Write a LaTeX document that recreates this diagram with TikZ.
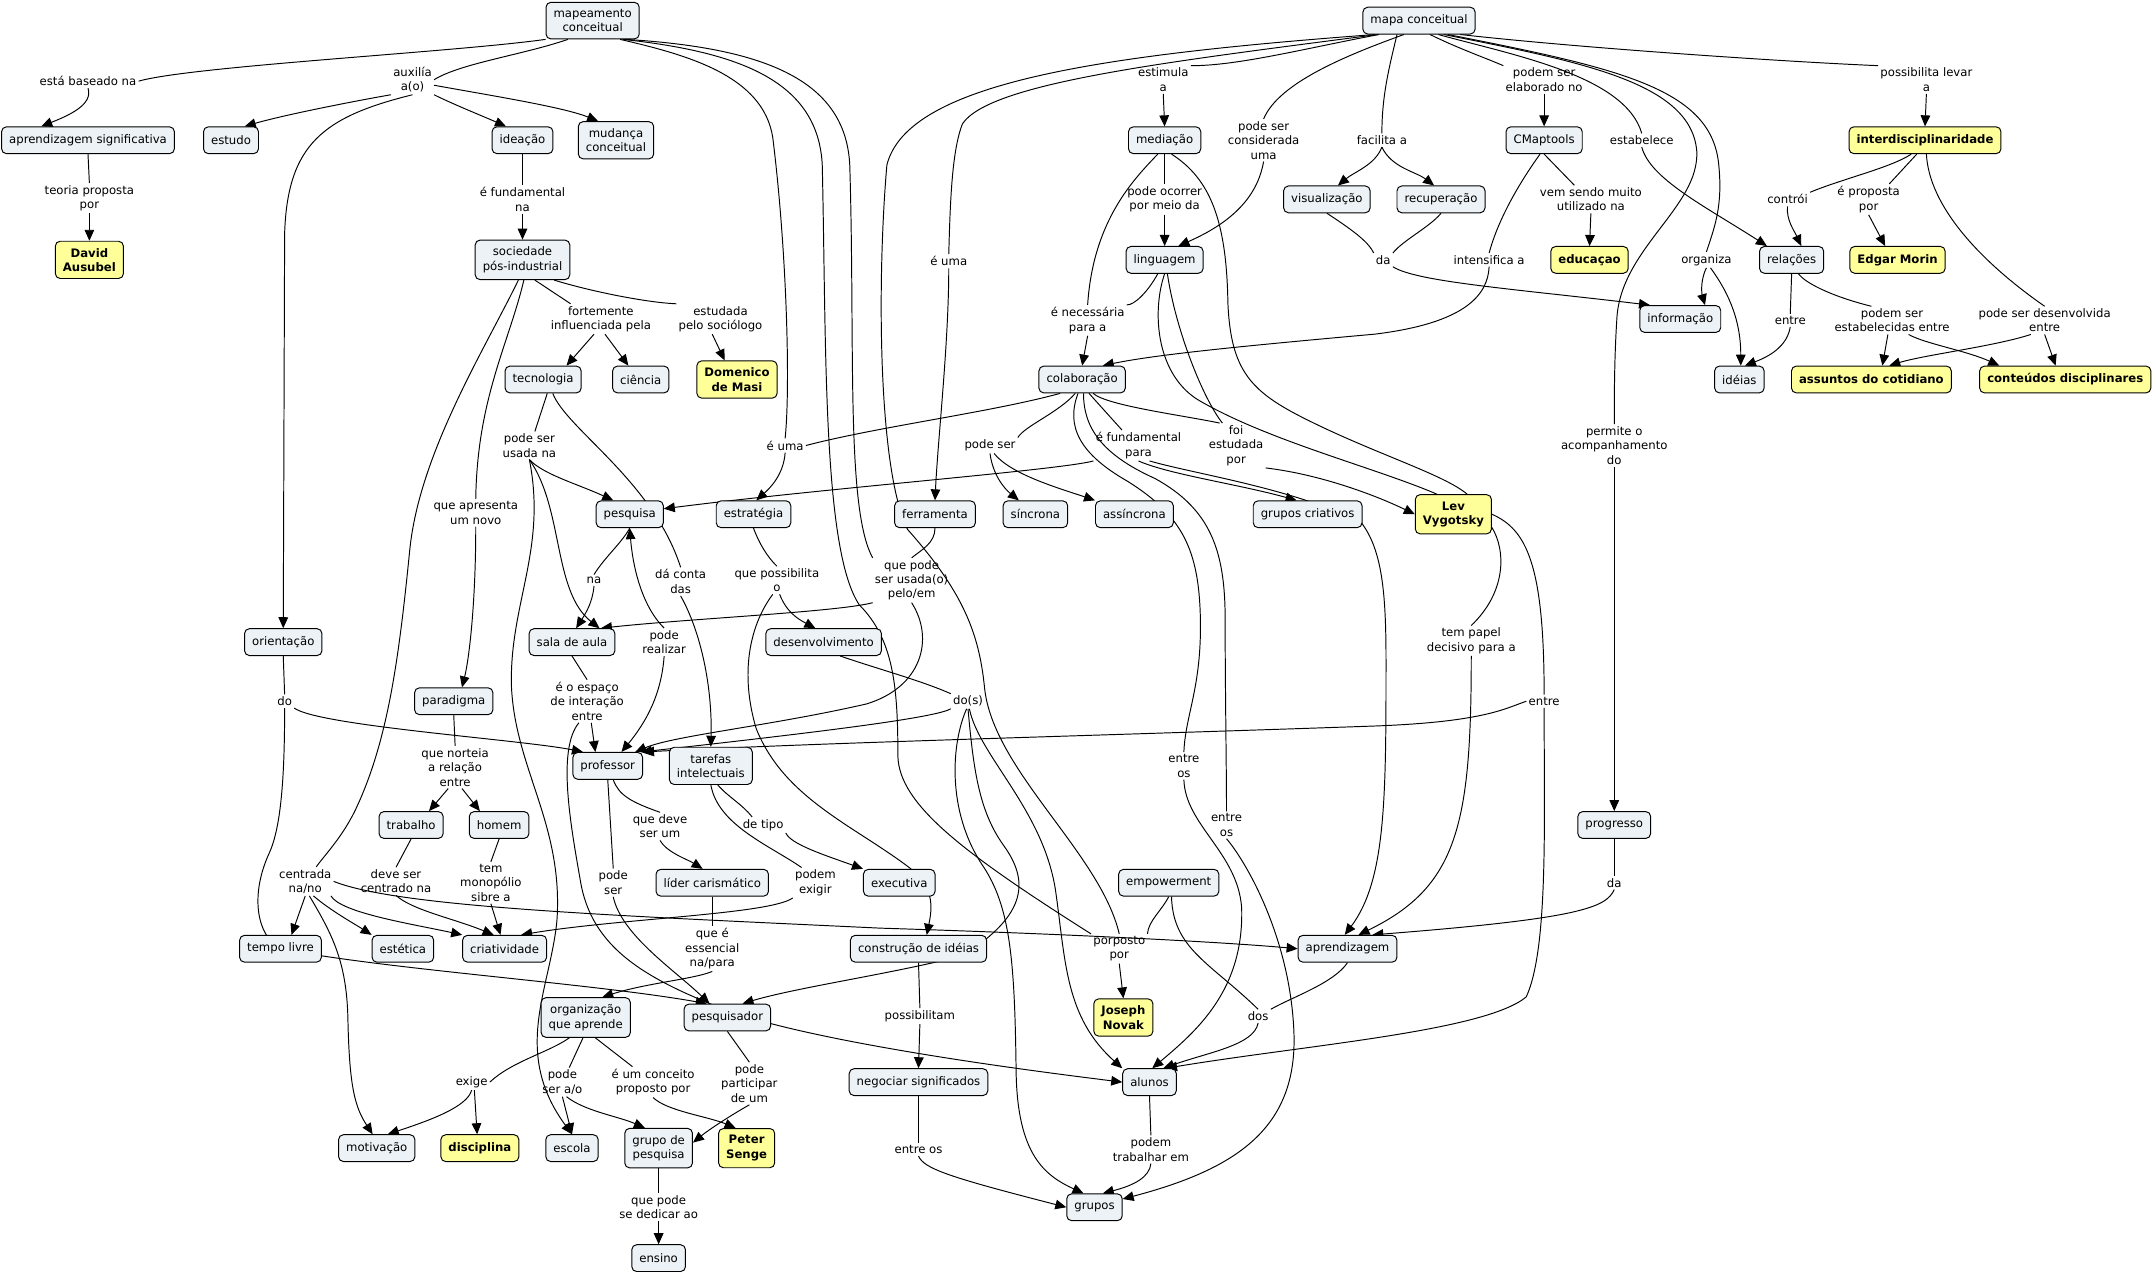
\documentclass[tikz,border=0pt]{standalone}
\usepackage{fontspec}
\setmainfont{DejaVu Sans}
\usetikzlibrary{calc,arrows.meta}
\pgfdeclarelayer{bg}
\pgfdeclarelayer{edges}
\pgfsetlayers{bg,edges,main}
\definecolor{cfill}{RGB}{236,242,245}
\definecolor{yfill}{RGB}{255,255,153}
\newcommand\cfont{\fontsize{8.5}{10.5}\selectfont}
\tikzset{
 cbox/.style={draw=black, line width=0.7pt, rounded corners=3.5pt, fill=cfill, inner xsep=5.5pt, inner ysep=5pt, minimum height=19.5pt, align=center, font=\cfont},
 ybox/.style={cbox, fill=yfill, font=\cfont\bfseries},
 lab/.style={inner sep=1.5pt, align=center, font=\cfont},
 ln/.style={line width=0.7pt},
 ar/.style={ln, -{Triangle[length=8pt,width=7pt]}},
}
\begin{document}
\begin{tikzpicture}[x=1pt,y=-1pt]
\begin{pgfonlayer}{bg}
\fill[white] (0,0) rectangle (1568,925);
\end{pgfonlayer}
\useasboundingbox (0,0) rectangle (1568,925);
% concepts
\node[cbox] (M1) at (431,15) {mapeamento\\conceitual};
\node[cbox] (M2) at (1032,15) {mapa conceitual};
\node[cbox] (apsig) at (64,102) {aprendizagem significativa};
\node[cbox] (estudo) at (168,102) {estudo};
\node[cbox] (ideacao) at (380,102) {ideação};
\node[cbox] (mudanca) at (448,102) {mudança\\conceitual};
\node[ybox] (ausubel) at (65,189) {David\\Ausubel};
\node[cbox] (soc) at (380,189) {sociedade\\pós-industrial};
\node[cbox] (tec) at (395,276) {tecnologia};
\node[cbox] (cien) at (466,276) {ciência};
\node[ybox] (masi) at (536,276) {Domenico\\de Masi};
\node[cbox] (pesq) at (458,374) {pesquisa};
\node[cbox] (estr) at (548,374) {estratégia};
\node[cbox] (ferr) at (680,374) {ferramenta};
\node[cbox] (sinc) at (753,374) {síncrona};
\node[cbox] (assinc) at (825,374) {assíncrona};
\node[cbox] (gcri) at (951,374) {grupos criativos};
\node[ybox] (lev) at (1057,374) {Lev\\Vygotsky};
\node[cbox] (orient) at (206,467) {orientação};
\node[cbox] (sala) at (416,467) {sala de aula};
\node[cbox] (desenv) at (599,467) {desenvolvimento};
\node[cbox] (parad) at (330,510) {paradigma};
\node[cbox] (prof) at (442,557) {professor};
\node[cbox] (taref) at (517,557) {tarefas\\intelectuais};
\node[cbox] (trab) at (299,600) {trabalho};
\node[cbox] (homem) at (363,600) {homem};
\node[cbox] (progr) at (1174,600) {progresso};
\node[cbox] (lider) at (518,642) {líder carismático};
\node[cbox] (exec) at (654,642) {executiva};
\node[cbox] (empow) at (850,642) {empowerment};
\node[cbox] (tempo) at (204,690) {tempo livre};
\node[cbox] (estet) at (293,690) {estética};
\node[cbox] (criat) at (367,690) {criatividade};
\node[cbox] (constr) at (668,690) {construção de idéias};
\node[cbox] (aprend) at (980,690) {aprendizagem};
\node[cbox] (orgap) at (426,740) {organização\\que aprende};
\node[cbox] (pesqr) at (529,740) {pesquisador};
\node[ybox] (novak) at (817,740) {Joseph\\Novak};
\node[cbox] (negoc) at (668,787) {negociar significados};
\node[cbox] (alunos) at (836,787) {alunos};
\node[cbox] (motiv) at (274,835) {motivação};
\node[ybox] (disc) at (349,835) {disciplina};
\node[cbox] (escola) at (416,835) {escola};
\node[cbox] (gpesq) at (479,835) {grupo de\\pesquisa};
\node[ybox] (senge) at (543,835) {Peter\\Senge};
\node[cbox] (grupos) at (796,878) {grupos};
\node[cbox] (ensino) at (479,915) {ensino};
\node[cbox] (mediacao) at (847,102) {mediação};
\node[cbox] (visual) at (965,145) {visualização};
\node[cbox] (recup) at (1048,145) {recuperação};
\node[cbox] (ling) at (847,189) {linguagem};
\node[cbox] (colab) at (787,276) {colaboração};
\node[cbox] (cmap) at (1123,102) {CMaptools};
\node[ybox] (interd) at (1400,102) {interdisciplinaridade};
\node[ybox] (educ) at (1156,189) {educaçao};
\node[cbox] (relac) at (1303,189) {relações};
\node[ybox] (morin) at (1380,189) {Edgar Morin};
\node[cbox] (info) at (1222,232) {informação};
\node[cbox] (ideias) at (1265,276) {idéias};
\node[ybox] (assunt) at (1361,276) {assuntos do cotidiano};
\node[ybox] (conteud) at (1502,276) {conteúdos disciplinares};
% linking phrases
\node[lab] (l1) at (64,59) {está baseado na};
\node[lab] (l2) at (300,58) {auxilía\\a(o)};
\node[lab] (l3) at (65,144) {teoria proposta\\por};
\node[lab] (l4) at (380,145) {é fundamental\\na};
\node[lab] (l5) at (437,232) {fortemente\\influenciada pela};
\node[lab] (l6) at (524,232) {estudada\\pelo sociólogo};
\node[lab] (l7) at (385,324) {pode ser\\usada na};
\node[lab] (l8) at (346,373) {que apresenta\\um novo};
\node[lab] (l9) at (432,422) {na};
\node[lab] (l10) at (495,423) {dá conta\\das};
\node[lab] (l11) at (483,467) {pode\\realizar};
\node[lab] (l12) at (207,510) {do};
\node[lab] (l13) at (427,510) {é o espaço\\de interação\\entre};
\node[lab] (l14) at (331,558) {que norteia\\a relação\\entre};
\node[lab] (l15) at (480,601) {que deve\\ser um};
\node[lab] (l16) at (222,641) {centrada\\na/no};
\node[lab] (l17) at (288,641) {deve ser\\centrado na};
\node[lab] (l18) at (357,642) {tem\\monopólio\\sibre a};
\node[lab] (l19) at (446,642) {pode\\ser};
\node[lab] (l20) at (593,642) {podem\\exigir};
\node[lab] (l21) at (518,690) {que é\\essencial\\na/para};
\node[lab] (l22) at (343,787) {exige};
\node[lab] (l23) at (409,787) {pode\\ser a/o};
\node[lab] (l24) at (475,787) {é um conceito\\proposto por};
\node[lab] (l25) at (545,788) {pode\\participar\\de um};
\node[lab] (l26) at (479,878) {que pode\\se dedicar ao};
\node[lab] (l27) at (571,324) {é uma};
\node[lab] (l28) at (720,324) {pode ser};
\node[lab] (l29) at (828,324) {é fundamental\\para};
\node[lab] (l30) at (899,324) {foi\\estudada\\por};
\node[lab] (l31) at (565,422) {que possibilita\\o};
\node[lab] (l32) at (663,422) {que pode\\ser usada(o)\\pelo/em};
\node[lab] (l33) at (704,510) {do(s)};
\node[lab] (l34) at (555,600) {de tipo};
\node[lab] (l35) at (861,557) {entre\\os};
\node[lab] (l36) at (892,600) {entre\\os};
\node[lab] (l37) at (814,690) {porposto\\por};
\node[lab] (l38) at (669,739) {possibilitam};
\node[lab] (l39) at (915,739) {dos};
\node[lab] (l40) at (668,836) {entre os};
\node[lab] (l41) at (837,836) {podem\\trabalhar em};
\node[lab] (l42) at (846,58) {estimula\\a};
\node[lab] (l43) at (919,102) {pode ser\\considerada\\uma};
\node[lab] (l44) at (1005,102) {facilita a};
\node[lab] (l45) at (847,145) {pode ocorrer\\por meio da};
\node[lab] (l46) at (690,190) {é uma};
\node[lab] (l47) at (1006,189) {da};
\node[lab] (l48) at (791,233) {é necessária\\para a};
\node[lab] (l49) at (1123,58) {podem ser\\elaborado no};
\node[lab] (l50) at (1194,102) {estabelece};
\node[lab] (l51) at (1401,58) {possibilita levar\\a};
\node[lab] (l52) at (1157,145) {vem sendo muito\\utilizado na};
\node[lab] (l53) at (1300,145) {contrói};
\node[lab] (l54) at (1359,145) {é proposta\\por};
\node[lab] (l55) at (1083,189) {intensifica a};
\node[lab] (l56) at (1241,189) {organiza};
\node[lab] (l57) at (1302,233) {entre};
\node[lab] (l58) at (1376,233) {podem ser\\estabelecidas entre};
\node[lab] (l59) at (1487,233) {pode ser desenvolvida\\entre};
\node[lab] (l60) at (1174,324) {permite o\\acompanhamento\\do};
\node[lab] (l61) at (1070,466) {tem papel\\decisivo para a};
\node[lab] (l62) at (1123,510) {entre};
\node[lab] (l63) at (1174,642) {da};

\begin{pgfonlayer}{edges}
% mapeamento conceitual
\draw[ln] (M1.south west) .. controls (330,38) and (140,48) .. (l1.east);
\draw[ar] (l1.south) .. controls (68,76) and (50,84) .. ($(apsig.north)+(-34,0)$);
\draw[ln] ($(M1.south)+(-18,0)$) .. controls (380,40) and (335,46) .. (l2.east);
\draw[ar] (l2.south west) .. controls (255,74) and (205,84) .. ($(estudo.north)+(10,0)$);
\draw[ar] (l2.south east) .. controls (330,76) and (350,84) .. ($(ideacao.north)+(-12,0)$);
\draw[ar] ($(l2.east)+(0,4)$) .. controls (360,70) and (410,78) .. ($(mudanca.north)+(-13,0)$);
\draw[ar] (l2.south) .. controls (235,85) and (209,105) .. (207,170) -- (orient.north);
\draw[ln] (apsig.south) -- (l3.north);
\draw[ar] (l3.south) -- (ausubel.north);
\draw[ln] (ideacao.south) -- (l4.north);
\draw[ar] (l4.south) -- (soc.north);
\draw[ln] ($(soc.south)+(9,0)$) -- ($(l5.north)+(-22,0)$);
\draw[ar] ($(l5.south)+(-5,0)$) -- ($(tec.north)+(17,0)$);
\draw[ar] ($(l5.south)+(3,0)$) -- ($(cien.north)+(-9,0)$);
\draw[ln] ($(soc.south)+(23,0)$) .. controls (430,212) and (470,220) .. (l6.north west);
\draw[ar] ($(l6.south)+(-6,0)$) -- ($(masi.north)+(-9,0)$);
\draw[ln] ($(soc.south)+(-3,0)$) .. controls (352,255) and (305,330) .. (298,400) .. controls (290,480) and (282,540) .. (258,590) .. controls (248,610) and (236,622) .. ($(l16.north)+(8,0)$);
\draw[ln] ($(soc.south)+(1,0)$) .. controls (370,250) and (347,290) .. (l8.north);
\draw[ar] (l8.south) .. controls (346,440) and (341,480) .. ($(parad.north)+(6,0)$);
\draw[ln] ($(tec.south)+(3,0)$) -- ($(l7.north)+(4,0)$);
\draw[ar] (l7.south) .. controls (395,345) and (420,352) .. ($(pesq.north)+(-12,0)$);
\draw[ar] (l7.south) .. controls (410,370) and (402,430) .. ($(sala.north)+(20,0)$);
\draw[ar] (l7.south) .. controls (398,400) and (370,440) .. (372,500) .. controls (375,560) and (410,600) .. (405,670) .. controls (400,720) and (372,765) .. (escola.north);
\draw[ln] ($(tec.south)+(7,0)$) .. controls (412,312) and (475,350) .. (l10.north);
\draw[ar] (l10.south) .. controls (510,460) and (518,500) .. (taref.north);
\draw[ln] (pesq.south) .. controls (452,395) and (440,405) .. (l9.north);
\draw[ar] (l9.south) .. controls (431,438) and (426,446) .. ($(sala.north)+(3,0)$);
\draw[ar] (l11.north) .. controls (466,440) and (460,410) .. (pesq.south);
\draw[ar] (l11.south) .. controls (481,505) and (470,525) .. ($(prof.north)+(10,0)$);
\draw[ln] (sala.south) -- (l13.north);
\draw[ar] ($(l13.south)+(3,0)$) -- ($(prof.north)+(-9,0)$);
\draw[ar] ($(l13.south)+(-6,0)$) .. controls (405,545) and (415,600) .. (422,640) .. controls (430,690) and (470,712) .. (529,735) .. controls (600,760) and (760,780) .. (alunos.west);
\draw[ln] (orient.south) -- (l12.north);
\draw[ar] (l12.south east) .. controls (232,528) and (380,538) .. ($(prof.north)+(-18,0)$);
\draw[ar] (l12.south) .. controls (207,560) and (205,600) .. (196,620) .. controls (182,650) and (186,680) .. (204,690) .. controls (280,705) and (430,715) .. ($(pesqr.north)+(-15,0)$);
\draw[ln] (parad.south) -- (l14.north);
\draw[ar] ($(l14.south)+(-5,0)$) -- ($(trab.north)+(13,0)$);
\draw[ar] ($(l14.south)+(5,0)$) -- ($(homem.north)+(-14,0)$);
\draw[ln] (trab.south) -- (l17.north);
\draw[ar] (l17.south) .. controls (300,662) and (330,668) .. ($(criat.north)+(-8,0)$);
\draw[ln] (homem.south) -- (l18.north);
\draw[ar] (l18.south) -- ($(criat.north)+(-3,0)$);
\draw[ln] (taref.south) .. controls (522,600) and (560,615) .. ($(l20.north)+(-10,0)$);
\draw[ar] (l20.south west) .. controls (560,665) and (450,668) .. ($(criat.north)+(12,0)$);
\draw[ln] ($(taref.south)+(5,0)$) .. controls (530,580) and (540,585) .. ($(l34.north)+(-8,0)$);
\draw[ar] (l34.south east) .. controls (575,614) and (600,622) .. (exec.north west);
\draw[ln] ($(prof.south)+(4,0)$) .. controls (450,578) and (458,583) .. (l15.north);
\draw[ar] (l15.south) .. controls (485,620) and (500,625) .. ($(lider.north)+(-7,0)$);
\draw[ln] (prof.south) -- (l19.north);
\draw[ar] (l19.south) .. controls (452,680) and (490,705) .. ($(pesqr.north)+(-13,0)$);
\draw[ln] (lider.south) -- (l21.north);
\draw[ar] (l21.south) .. controls (505,712) and (470,715) .. ($(orgap.north)+(12,0)$);
\draw[ar] (l16.south) -- ($(tempo.north)+(8,0)$);
\draw[ar] ($(l16.south)+(6,0)$) .. controls (240,662) and (258,672) .. (estet.north west);
\draw[ar] ($(l16.south east)+(-2,0)$) .. controls (248,664) and (300,672) .. (criat.north west);
\draw[ar] (l16.east) .. controls (290,660) and (450,666) .. (640,675) .. controls (800,680) and (900,686) .. (aprend.west);
\draw[ar] ($(l16.south)+(3,0)$) .. controls (242,680) and (252,700) .. (253,740) .. controls (254,790) and (258,805) .. ($(motiv.north)+(-3,0)$);
\draw[ln] ($(orgap.south)+(-12,0)$) .. controls (400,765) and (372,772) .. (l22.east);
\draw[ar] (l22.south) .. controls (340,805) and (312,815) .. ($(motiv.north)+(8,0)$);
\draw[ar] ($(l22.south)+(2,0)$) -- ($(disc.north)+(-2,0)$);
\draw[ln] ($(orgap.south)+(-2,0)$) -- ($(l23.north)+(5,0)$);
\draw[ar] (l23.south) -- (escola.north);
\draw[ar] ($(l23.south)+(3,0)$) .. controls (425,808) and (450,812) .. ($(gpesq.north)+(-10,0)$);
\draw[ln] ($(orgap.south)+(7,0)$) -- ($(l24.north)+(-15,0)$);
\draw[ar] (l24.south) .. controls (485,808) and (515,812) .. ($(senge.north)+(-8,0)$);
\draw[ln] (pesqr.south) -- (l25.north);
\draw[ar] (l25.south) .. controls (530,812) and (515,822) .. ($(gpesq.east)+(0,-4)$);
\draw[ln] (gpesq.south) -- (l26.north);
\draw[ar] (l26.south) -- (ensino.north);
% colaboração and middle
\draw[ln] ($(colab.south)+(-16,0)$) .. controls (720,300) and (640,310) .. (l27.east);
\draw[ln] ($(M1.south)+(20,0)$) .. controls (500,40) and (555,55) .. (562,100) .. controls (572,180) and (575,280) .. (l27.north);
\draw[ar] (l27.south) .. controls (570,345) and (560,355) .. ($(estr.north)+(2,0)$);
\draw[ln] ($(M1.south)+(22,0)$) .. controls (540,38) and (595,60) .. (598,120) .. controls (601,250) and (598,400) .. (625,440) .. controls (650,465) and (653,500) .. (653,550) .. controls (654,585) and (700,620) .. (l37.north west);
\draw[ln] ($(M1.south)+(24,0)$) .. controls (560,35) and (615,60) .. (618,120) .. controls (622,250) and (615,370) .. (l32.north west);
\draw[ln] (ferr.south) .. controls (680,395) and (670,400) .. (l32.north);
\draw[ar] (l32.south west) .. controls (610,445) and (500,450) .. ($(sala.north)+(21,0)$);
\draw[ar] (l32.south) .. controls (680,465) and (670,500) .. (630,512) .. controls (560,528) and (490,535) .. ($(prof.north)+(20,0)$);
\draw[ln] ($(M2.south)+(-30,0)$) .. controls (850,45) and (720,60) .. (700,90) .. controls (692,110) and (691,150) .. (l46.north);
\draw[ar] (l46.south) .. controls (690,250) and (682,320) .. (ferr.north);
\draw[ln] ($(M2.south)+(-32,0)$) .. controls (800,40) and (660,60) .. (645,120) .. controls (638,200) and (638,340) .. (660,385) .. controls (700,430) and (712,460) .. (716,500) .. controls (722,560) and (800,620) .. (l37.north);
\draw[ar] (l37.south) -- (novak.north);
\draw[ln] (empow.south) .. controls (845,662) and (835,670) .. (l37.north east);
\draw[ln] ($(empow.south)+(2,0)$) .. controls (853,690) and (880,700) .. (l39.north);
\draw[ln] (aprend.south) .. controls (970,715) and (940,725) .. (l39.north east);
\draw[ar] (l39.south) .. controls (912,760) and (880,765) .. ($(alunos.north)+(10,0)$);
\draw[ln] ($(M2.south)+(-29,0)$) .. controls (950,35) and (900,48) .. (l42.north east);
\draw[ar] (l42.south) -- (mediacao.north);
\draw[ln] ($(M2.south)+(-11,0)$) .. controls (980,40) and (930,60) .. (l43.north);
\draw[ar] (l43.south) .. controls (915,140) and (900,160) .. ($(ling.north)+(10,0)$);
\draw[ln] ($(M2.south)+(-16,0)$) .. controls (1010,50) and (1005,70) .. (l44.north);
\draw[ar] (l44.south) .. controls (1000,120) and (985,125) .. ($(visual.north)+(8,0)$);
\draw[ar] (l44.south) .. controls (1012,122) and (1030,125) .. ($(recup.north)+(-5,0)$);
\draw[ln] (visual.south) .. controls (980,165) and (995,175) .. (l47.north west);
\draw[ln] (recup.south) .. controls (1040,165) and (1020,175) .. (l47.north east);
\draw[ar] (l47.south east) .. controls (1030,205) and (1100,210) .. ($(info.north)+(-22,0)$);
\draw[ln] (mediacao.south) -- (l45.north);
\draw[ar] (l45.south) -- (ling.north);
\draw[ln] ($(mediacao.south)+(-5,0)$) .. controls (825,130) and (795,160) .. (l48.north);
\draw[ln] ($(ling.south)+(-5,0)$) .. controls (835,212) and (825,222) .. (l48.north east);
\draw[ar] (l48.south) -- (colab.north);
\draw[ln] ($(mediacao.south)+(5,0)$) .. controls (880,130) and (892,160) .. (893,220) .. controls (895,270) and (910,285) .. (950,305) .. controls (1000,330) and (1050,345) .. ($(lev.north)+(10,0)$);
\draw[ln] (ling.south) .. controls (838,225) and (840,270) .. (870,290) .. controls (920,320) and (1000,340) .. ($(lev.north)+(-12,0)$);
\draw[ln] ($(ling.south)+(2,0)$) .. controls (855,240) and (875,290) .. ($(l30.north)+(-10,0)$);
\draw[ln] ($(colab.south)+(8,0)$) .. controls (805,295) and (860,302) .. ($(l30.north)+(-12,0)$);
\draw[ar] (l30.south east) .. controls (960,345) and (1000,360) .. (lev.west);
\draw[ln] ($(colab.south)+(5,0)$) -- ($(l29.north)+(-12,0)$);
\draw[ar] (l29.south) .. controls (850,345) and (900,352) .. ($(gcri.north)+(-8,0)$);
\draw[ar] ($(l29.south)+(8,0)$) .. controls (870,345) and (940,355) .. (990,380) .. controls (1005,400) and (1008,430) .. (1008,480) .. controls (1008,580) and (1008,640) .. ($(aprend.north)+(-2,0)$);
\draw[ln] ($(colab.south)+(-5,0)$) .. controls (770,300) and (745,310) .. (l28.north east);
\draw[ar] (l28.south) .. controls (722,345) and (730,355) .. ($(sinc.north)+(-12,0)$);
\draw[ar] ($(l28.south)+(3,0)$) .. controls (735,345) and (770,355) .. (assinc.north west);
\draw[ar] (l29.south west) .. controls (770,342) and (600,355) .. ($(pesq.east)+(0,-4)$);
\draw[ln] ($(colab.south)+(-3,0)$) .. controls (775,310) and (785,330) .. (820,350) .. controls (860,375) and (872,400) .. (873,450) .. controls (874,500) and (862,520) .. (l35.north);
\draw[ar] (l35.south) .. controls (862,600) and (900,620) .. (903,660) .. controls (905,720) and (870,750) .. ($(alunos.north)+(2,0)$);
\draw[ln] ($(colab.south)+(1,0)$) .. controls (788,310) and (800,330) .. (840,348) .. controls (880,370) and (891,400) .. (891,450) .. controls (891,500) and (892,560) .. (l36.north);
\draw[ar] (l36.south) .. controls (905,625) and (938,680) .. (941,750) .. controls (944,820) and (900,850) .. ($(grupos.east)+(0,-6)$);
% right side
\draw[ln] (cmap.south) -- ($(l52.north)+(-12,0)$);
\draw[ar] (l52.south) -- (educ.north);
\draw[ln] ($(cmap.south)+(-3,0)$) .. controls (1100,140) and (1088,165) .. (l55.north);
\draw[ar] (l55.south) .. controls (1082,215) and (1065,235) .. (1000,243) .. controls (900,252) and (840,258) .. ($(colab.north)+(15,0)$);
\draw[ln] ($(M2.south)+(8,0)$) .. controls (1060,35) and (1080,42) .. (l49.north west);
\draw[ar] (l49.south) -- (cmap.north);
\draw[ln] ($(M2.south)+(14,0)$) .. controls (1100,40) and (1182,55) .. (l50.north);
\draw[ar] (l50.south) .. controls (1200,130) and (1240,150) .. ($(relac.north)+(-18,0)$);
\draw[ln] ($(M2.south)+(18,0)$) .. controls (1150,45) and (1230,60) .. (1234,110) .. controls (1236,150) and (1180,180) .. (1176,230) .. controls (1174,260) and (1174,290) .. (l60.north);
\draw[ar] (l60.south) -- (progr.north);
\draw[ln] ($(M2.south)+(21,0)$) .. controls (1180,50) and (1245,65) .. (1250,120) .. controls (1253,150) and (1247,165) .. (l56.north);
\draw[ar] (l56.south) .. controls (1236,205) and (1238,215) .. ($(info.north)+(18,0)$);
\draw[ar] ($(l56.south)+(3,0)$) .. controls (1255,210) and (1266,230) .. ($(ideias.north)+(1,0)$);
\draw[ln] ($(M2.south)+(30,0)$) .. controls (1150,35) and (1300,45) .. (l51.north west);
\draw[ar] (l51.south) -- (interd.north);
\draw[ln] ($(interd.south)+(-10,0)$) .. controls (1375,122) and (1340,130) .. (l53.north east);
\draw[ar] (l53.south) .. controls (1299,160) and (1305,168) .. ($(relac.north)+(7,0)$);
\draw[ln] ($(interd.south)+(-6,0)$) -- ($(l54.north)+(15,0)$);
\draw[ar] (l54.south) -- ($(morin.north)+(-9,0)$);
\draw[ln] ($(interd.south)+(1,0)$) .. controls (1403,150) and (1440,190) .. (l59.north);
\draw[ar] ($(l59.south)+(-10,0)$) .. controls (1450,252) and (1400,258) .. ($(assunt.north)+(13,0)$);
\draw[ar] (l59.south) -- ($(conteud.north)+(-7,0)$);
\draw[ln] (relac.south) -- (l57.north);
\draw[ar] (l57.south) .. controls (1300,250) and (1290,258) .. ($(ideias.north)+(4,0)$);
\draw[ln] ($(relac.south)+(5,0)$) .. controls (1312,205) and (1330,215) .. ($(l58.north)+(-15,0)$);
\draw[ar] ($(l58.south)+(-3,0)$) -- ($(assunt.north)+(8,0)$);
\draw[ar] ($(l58.south)+(12,0)$) .. controls (1400,250) and (1430,255) .. ($(conteud.north)+(-48,0)$);
\draw[ln] ($(lev.south east)+(0,-5)$) .. controls (1095,400) and (1096,430) .. (l61.north);
\draw[ar] (l61.south) .. controls (1070,600) and (1060,645) .. ($(aprend.north)+(8,0)$);
\draw[ln] (lev.east) .. controls (1110,385) and (1123,410) .. (l62.north);
\draw[ar] (l62.west) .. controls (1095,515) and (1080,525) .. (1000,528) .. controls (800,535) and (600,540) .. (prof.north east);
\draw[ar] (l62.south) .. controls (1123,600) and (1126,690) .. (1110,725) .. controls (1080,750) and (950,760) .. ($(alunos.north)+(12,0)$);
\draw[ln] (progr.south) -- (l63.north);
\draw[ar] (l63.south) .. controls (1168,660) and (1150,668) .. ($(aprend.north)+(18,0)$);
% desenvolvimento / do(s)
\draw[ln] ($(desenv.south)+(12,0)$) .. controls (640,487) and (670,495) .. (l33.north west);
\draw[ar] (l33.south west) .. controls (680,522) and (600,532) .. ($(prof.north)+(24,0)$);
\draw[ar] ($(l33.south)+(-1,0)$) .. controls (692,540) and (688,590) .. (715,630) .. controls (735,660) and (738,700) .. (739,780) .. controls (740,840) and (760,855) .. ($(grupos.north)+(-8,0)$);
\draw[ar] (l33.south) .. controls (708,560) and (712,590) .. (730,615) .. controls (748,640) and (748,665) .. (700,695) .. controls (650,708) and (580,718) .. ($(pesqr.north)+(11,0)$);
\draw[ar] ($(l33.south)+(1,0)$) .. controls (712,550) and (760,590) .. (768,650) .. controls (775,700) and (775,740) .. (alunos.north west);
\draw[ln] (estr.south) .. controls (552,395) and (558,405) .. (l31.north);
\draw[ar] ($(l31.south)+(2,0)$) .. controls (572,445) and (580,450) .. ($(desenv.north)+(-6,0)$);
\draw[ar] ($(l31.south)+(-3,0)$) .. controls (545,455) and (538,490) .. (550,530) .. controls (570,580) and (620,600) .. (660,630) .. controls (680,645) and (678,660) .. ($(constr.north)+(6,0)$);
\draw[ln] (constr.south) -- (l38.north);
\draw[ar] (l38.south) -- (negoc.north);
\draw[ln] (negoc.south) -- (l40.north);
\draw[ar] (l40.south) .. controls (672,850) and (690,856) .. (grupos.west);
\draw[ln] (alunos.south) -- (l41.north);
\draw[ar] (l41.south) .. controls (836,856) and (825,862) .. ($(grupos.north)+(6,0)$);
\end{pgfonlayer}
\end{tikzpicture}
\end{document}
